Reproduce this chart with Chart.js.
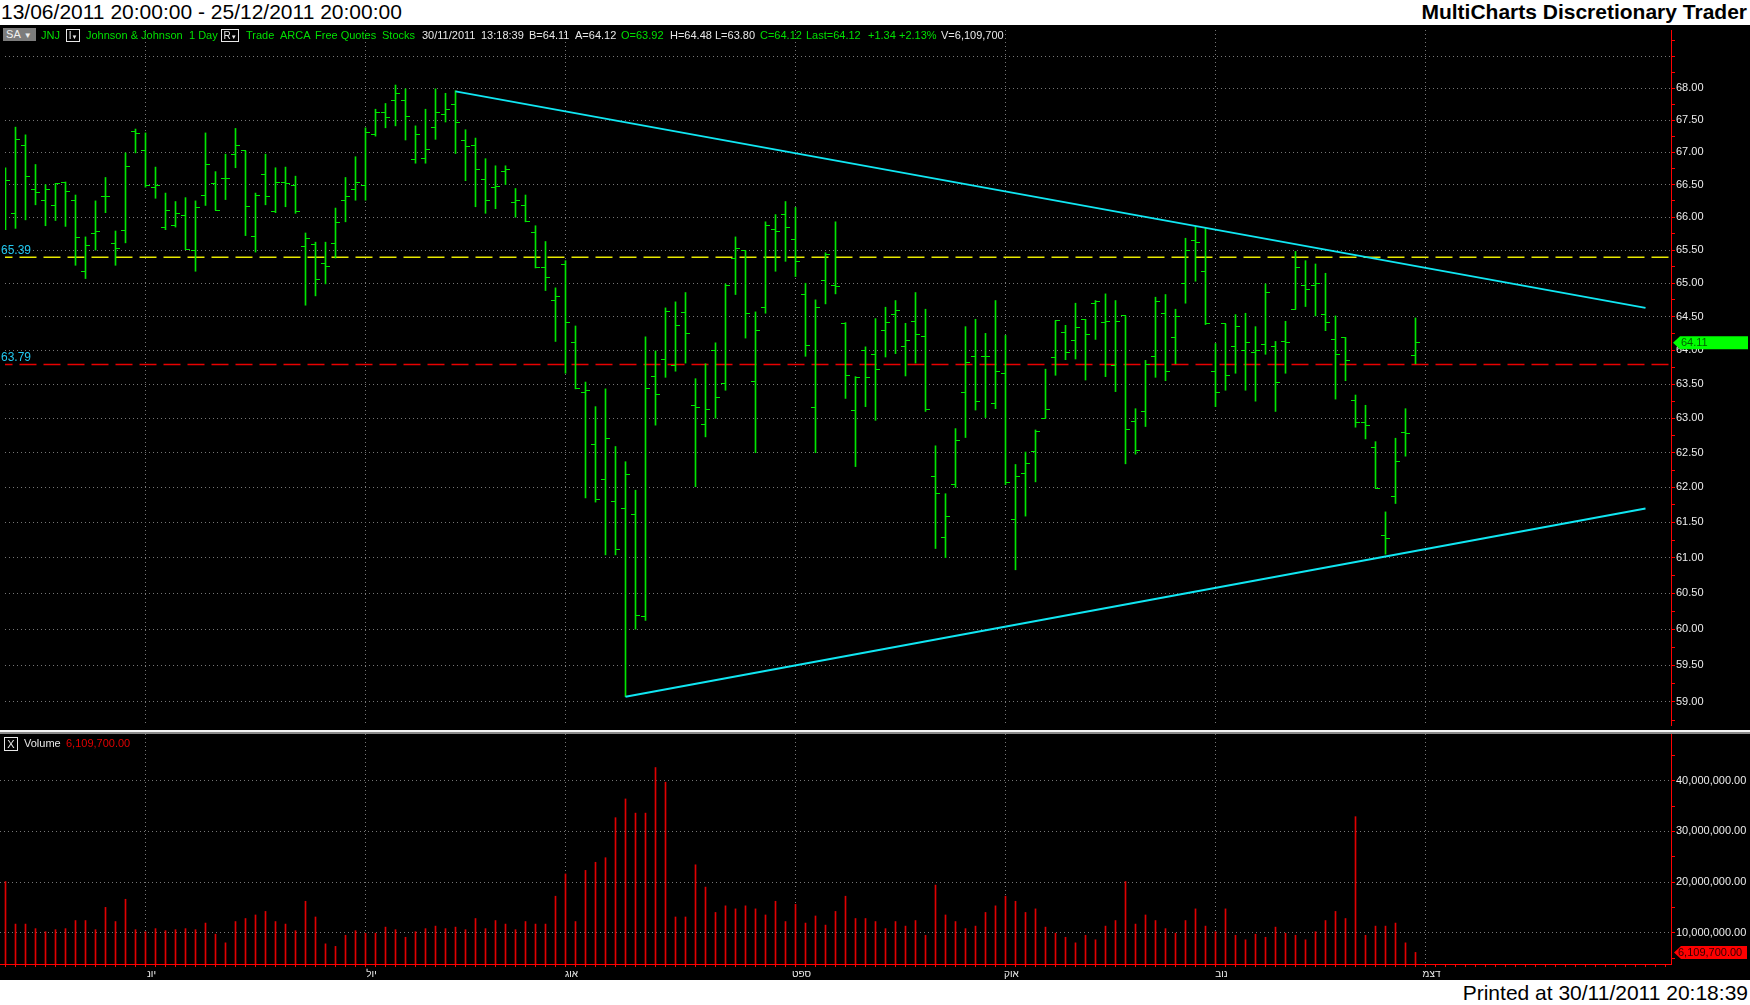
<!DOCTYPE html>
<html>
<head>
<meta charset="utf-8">
<script src="https://cdn.jsdelivr.net/npm/chart.js@4.4.1/dist/chart.umd.min.js"></script>
<style>
html,body{margin:0;padding:0;background:#fff;width:1750px;height:1005px;overflow:hidden;font-family:"Liberation Sans",Arial,sans-serif;}
#black{position:absolute;left:0;top:25px;width:1750px;height:955px;background:#000;}
#title{position:absolute;left:1px;top:0;font-size:21px;line-height:24px;color:#000;white-space:nowrap;}
#brand{position:absolute;right:3px;top:0;font-size:21px;font-weight:bold;line-height:24px;color:#000;white-space:nowrap;}
#footer{position:absolute;right:2px;top:980px;font-size:21px;line-height:25px;color:#000;white-space:nowrap;}
canvas{position:absolute;left:0;}
#price{top:25px;}
#volume{top:734px;}
#sep1{position:absolute;left:0;top:730px;width:1750px;height:2px;background:#f4f4f4;z-index:3;}
#sep2{position:absolute;left:0;top:732px;width:1750px;height:2px;background:#8a8a8a;z-index:3;}
.t{position:absolute;top:29px;font-size:11px;line-height:13px;white-space:nowrap;z-index:5;}
.g{color:#00e000;}
.w{color:#e8e8e8;}
.box{position:absolute;top:29px;height:11px;font-size:10px;line-height:11px;border:1px solid #e8e8e8;color:#e8e8e8;text-align:center;z-index:5;}
#sa{position:absolute;left:3px;top:28px;width:33px;height:13px;background:#7c7c7c;color:#f0f0f0;font-size:11px;line-height:13px;z-index:5;}
#vx{position:absolute;left:4px;top:737px;width:12px;height:12px;border:1px solid #e8e8e8;color:#e8e8e8;font-size:11px;line-height:12px;text-align:center;z-index:5;}
.v{position:absolute;top:737px;font-size:11px;line-height:13px;white-space:nowrap;z-index:5;}
</style>
</head>
<body>
<div id="black"></div>
<div id="title">13/06/2011 20:00:00 - 25/12/2011 20:00:00</div>
<div id="brand">MultiCharts Discretionary Trader</div>
<div id="footer">Printed at 30/11/2011 20:18:39</div>

<canvas id="price" width="1750" height="705"></canvas>
<canvas id="volume" width="1750" height="246"></canvas>
<div id="sep1"></div><div id="sep2"></div>

<div id="sa">&nbsp;SA&nbsp;<span style="font-size:8px">&#9660;</span></div>
<span class="t g" style="left:41px">JNJ</span>
<span class="box" style="left:66px;width:12px">I<span style="font-size:6px">&#9660;</span></span>
<span class="t g" style="left:86px">Johnson &amp; Johnson</span>
<span class="t g" style="left:189px">1 Day</span>
<span class="box" style="left:221px;width:16px">R<span style="font-size:6px">&#9660;</span></span>
<span class="t g" style="left:246px">Trade</span>
<span class="t g" style="left:280px">ARCA</span>
<span class="t g" style="left:315px">Free Quotes</span>
<span class="t g" style="left:382px">Stocks</span>
<span class="t w" style="left:422px">30/11/2011</span>
<span class="t w" style="left:481px">13:18:39</span>
<span class="t w" style="left:529px">B=64.11</span>
<span class="t w" style="left:575px">A=64.12</span>
<span class="t g" style="left:621px">O=63.92</span>
<span class="t w" style="left:670px">H=64.48</span>
<span class="t w" style="left:715px">L=63.80</span>
<span class="t g" style="left:760px">C=64.12</span>
<span class="t g" style="left:806px">Last=64.12</span>
<span class="t g" style="left:868px">+1.34</span>
<span class="t g" style="left:899px">+2.13%</span>
<span class="t w" style="left:941px">V=6,109,700</span>

<div id="vx">X</div>
<span class="v w" style="left:24px">Volume</span>
<span class="v" style="left:66px;color:#e00000">6,109,700.00</span>

<script>
// ---------------- DATA ----------------
const monthLabels = ['יונ','יול','אוג','ספט','אוק','נוב','דצמ'];
const monthStartBars = [15, 37, 57, 80, 101, 122, 143];

const opens = [66.33,66.05,67.11,66.43,66.25,66.18,66.54,66.26,65.18,65.75,66.31,65.60,65.80,67.32,67.03,66.46,65.85,65.88,66.02,65.49,
66.34,66.51,66.60,66.97,67.02,65.71,66.65,66.09,66.54,66.48,65.55,65.58,65.29,65.60,66.25,66.43,66.49,67.28,67.62,67.81,
67.81,66.88,66.90,67.39,67.59,67.74,67.18,67.10,66.58,66.46,66.70,66.22,66.18,65.76,65.24,64.74,65.28,64.11,63.37,62.62,
62.11,61.80,61.70,61.61,60.18,63.61,63.86,63.77,64.56,63.19,62.91,63.99,63.51,65.38,65.49,63.54,64.64,65.82,66.04,65.66,
64.83,63.16,65.04,64.96,64.39,63.11,63.99,63.94,64.29,64.53,64.05,64.42,64.20,62.16,61.29,62.04,63.37,63.90,63.91,63.22,
63.65,61.54,62.20,62.52,63.00,63.89,64.26,64.14,64.46,64.69,64.41,63.77,64.51,62.96,63.10,63.90,64.55,64.19,64.99,65.64,
65.17,63.68,64.39,64.06,64.00,63.96,64.09,64.06,64.13,64.61,64.97,64.97,64.53,64.16,64.19,63.26,62.94,62.58,61.31,61.87,
62.80,63.92];
const highs = [66.76,67.39,67.27,66.81,66.50,66.52,66.54,66.34,65.70,66.25,66.61,65.79,66.99,67.36,67.30,66.77,66.37,66.24,66.30,66.25,
67.30,66.70,66.97,67.37,67.02,66.37,66.97,66.76,66.77,66.63,65.76,65.62,65.62,66.14,66.61,66.93,67.38,67.67,67.76,68.05,
67.99,67.41,67.67,67.99,67.92,67.96,67.35,67.22,66.90,66.79,66.79,66.44,66.34,65.87,65.63,64.93,65.34,64.36,63.53,63.17,
63.43,62.59,62.37,61.96,64.20,63.99,64.63,64.72,64.86,63.58,63.80,64.11,64.99,65.70,65.49,64.57,65.93,66.04,66.24,66.15,
65.00,64.75,65.46,65.93,64.41,63.61,64.05,64.47,64.64,64.74,64.40,64.86,64.61,62.60,61.91,62.85,64.35,64.46,64.25,64.74,
64.22,62.33,62.51,62.83,63.72,64.44,64.37,64.70,64.46,64.74,64.84,64.74,64.51,63.14,63.85,64.79,64.83,64.61,65.68,65.86,
65.83,64.10,64.39,64.53,64.55,64.35,64.99,64.13,64.43,65.48,65.34,65.29,65.15,64.51,64.19,63.34,63.19,62.66,61.65,62.71,
63.14,64.48];
const lows = [65.81,65.83,65.96,66.19,65.87,65.95,65.86,65.27,65.07,65.50,66.07,65.27,65.61,66.99,66.46,66.29,65.81,65.85,65.51,65.18,
66.18,66.11,66.27,66.76,65.72,65.47,66.19,66.07,66.16,66.06,64.67,64.81,64.99,65.38,65.93,66.26,66.26,67.25,67.38,67.41,
67.19,66.83,66.83,67.20,67.47,66.98,66.56,66.16,66.06,66.13,66.50,66.00,65.93,65.23,64.89,64.13,63.66,63.43,61.85,61.79,
61.04,61.04,59.07,60.00,60.12,62.90,63.60,63.69,63.81,62.01,62.73,63.00,63.41,64.83,64.18,62.50,64.55,65.18,65.33,65.10,
63.91,62.50,64.69,64.84,63.29,62.30,63.17,62.97,63.90,63.95,63.62,63.81,63.10,61.13,61.00,62.00,62.72,63.12,63.01,63.14,
62.04,60.83,61.59,62.08,63.00,63.63,63.86,63.87,63.56,64.16,63.61,63.39,62.34,62.48,62.88,63.60,63.55,63.80,64.70,65.03,
64.38,63.17,63.41,63.66,63.41,63.25,63.94,63.10,63.66,64.61,64.65,64.51,64.29,63.28,63.55,62.87,62.70,61.99,61.05,61.77,
62.45,63.80];
const closes = [66.57,67.20,66.63,66.38,66.42,66.51,66.40,65.69,65.57,65.78,66.31,65.52,66.78,67.29,66.49,66.49,66.11,66.06,65.51,66.15,
66.81,66.11,66.60,67.11,66.17,66.34,66.31,66.53,66.51,66.08,65.68,65.06,65.25,65.92,66.32,66.54,67.30,67.62,67.54,67.92,
67.56,67.27,67.04,67.62,67.66,67.46,67.09,66.74,66.26,66.47,66.74,66.26,65.93,65.24,65.08,64.80,64.41,63.43,63.41,61.83,
62.71,61.12,62.18,60.19,63.44,63.35,64.58,64.36,64.25,63.16,63.13,63.30,64.97,65.53,64.55,64.29,65.87,65.78,65.85,65.33,
64.07,64.64,65.43,64.95,63.63,63.59,63.60,63.72,64.41,64.59,64.14,64.23,63.13,61.91,61.58,62.68,63.82,63.25,63.90,63.69,
62.07,62.16,62.35,62.81,63.13,64.44,63.96,64.33,64.23,64.72,64.43,64.43,62.83,62.53,63.79,64.73,63.69,64.50,65.50,65.61,
64.39,63.38,63.63,64.35,64.12,64.00,64.86,63.53,64.12,65.24,64.91,64.99,64.41,63.94,63.85,62.94,62.90,61.99,61.27,62.37,
62.78,64.12];
const volumes = [20.1e6,11.7e6,11.7e6,10.8e6,10.2e6,10.6e6,10.8e6,12.4e6,12.4e6,10.6e6,15.0e6,12.2e6,16.6e6,10.6e6,10.2e6,10.8e6,10.4e6,10.6e6,10.8e6,10.6e6,
11.9e6,9.7e6,8.0e6,12.2e6,12.8e6,13.5e6,14.2e6,12.2e6,11.7e6,10.4e6,16.2e6,13.1e6,7.8e6,7.3e6,9.5e6,10.4e6,9.9e6,9.9e6,11.1e6,10.6e6,
9.1e6,10.2e6,10.8e6,11.3e6,10.8e6,11.1e6,10.6e6,12.8e6,10.8e6,12.4e6,11.7e6,10.6e6,12.2e6,11.7e6,11.7e6,17.2e6,21.6e6,12.2e6,22.3e6,23.9e6,
24.8e6,32.7e6,36.4e6,33.6e6,33.6e6,42.6e6,39.7e6,13.1e6,13.1e6,23.4e6,19.0e6,14.0e6,15.3e6,14.7e6,15.3e6,14.7e6,13.5e6,16.2e6,12.2e6,15.6e6,
11.9e6,13.3e6,11.5e6,14.2e6,17.2e6,12.8e6,12.8e6,12.2e6,10.8e6,12.2e6,11.3e6,12.4e6,9.5e6,19.4e6,13.5e6,12.2e6,10.8e6,11.3e6,14.0e6,15.3e6,
17.2e6,16.2e6,14.0e6,14.7e6,11.1e6,9.9e6,9.1e6,8.0e6,9.5e6,8.6e6,11.3e6,12.4e6,20.1e6,11.7e6,13.5e6,12.4e6,10.8e6,9.9e6,12.4e6,14.7e6,
11.3e6,10.2e6,14.7e6,9.5e6,8.6e6,9.7e6,9.1e6,11.1e6,9.9e6,9.5e6,8.6e6,10.2e6,12.4e6,14.2e6,12.8e6,32.9e6,9.5e6,11.3e6,11.3e6,11.9e6,
8.0e6,6.1097e6];

const resistanceLine = [{bar: 46, price: 67.95}, {bar: 165, price: 64.63}];
const supportLine    = [{bar: 63, price: 59.07}, {bar: 165, price: 61.70}];
const levelYellow = 65.39;
const levelRed = 63.79;
const lastPrice = 64.11;
const lastVolume = 6109700;
const priceLabelValues = [59,59.5,60,60.5,61,61.5,62,62.5,63,63.5,64,64.5,65,65.5,66,66.5,67,67.5,68];
const volumeLabelValues = [10e6,20e6,30e6,40e6];

// ---------------- LAYOUT CALIBRATION (page pixels) ----------------
const BAR_PIX = {n1: 1, x1: 5.5, n2: 142, x2: 1415.5};
const PRICE_PIX = {p1: 68, y1: 88.2, p2: 59, y2: 701.8, canvasTop: 25};
const VOL_PIX = {v1: 40e6, y1: 780.7, v2: 10e6, y2: 932.7, canvasTop: 734};

// ---------------- STYLE ----------------
const GREEN = 'rgb(0,230,0)';
const RED = '#e00000';
const DOT = '#767676';
const AXIS_RED = '#ff0000';
const LABEL = '#ececec';
const CYAN = '#10e6f2';
const X_LO = 0, X_HI = 170;
const FONT = {family: '"Liberation Sans", Arial, sans-serif', size: 11};

function tickImage(left) {
  const c = document.createElement('canvas');
  c.width = 9; c.height = 1;
  const g = c.getContext('2d');
  g.fillStyle = GREEN;
  if (left) g.fillRect(0, 0, 5, 1); else g.fillRect(4, 0, 5, 1);
  return c;
}
const isHalf = v => Math.abs(v * 2 - Math.round(v * 2)) < 1e-6;
const fmtVol = v => v.toLocaleString('en-US', {minimumFractionDigits: 2, maximumFractionDigits: 2});
const noPad = s => { s.paddingTop = 0; s.paddingBottom = 0; s.paddingLeft = 0; s.paddingRight = 0; };

function calibrateX(chart) {
  const a = chart.chartArea;
  const k = (BAR_PIX.x2 - BAR_PIX.x1) / (BAR_PIX.n2 - BAR_PIX.n1);
  const toN = px => BAR_PIX.n1 + (px - BAR_PIX.x1) / k;
  chart.options.scales.x.min = toN(a.left);
  chart.options.scales.x.max = toN(a.right);
}
function calibratePrice(chart) {
  const a = chart.chartArea, P = PRICE_PIX;
  const f = yPage => Math.log(P.p1) + (yPage - P.y1) * (Math.log(P.p2) - Math.log(P.p1)) / (P.y2 - P.y1);
  chart.options.scales.y.min = Math.exp(f(a.bottom + P.canvasTop));
  chart.options.scales.y.max = Math.exp(f(a.top + P.canvasTop));
}
function calibrateVolume(chart) {
  const a = chart.chartArea, V = VOL_PIX;
  const f = yPage => V.v1 + (yPage - V.y1) * (V.v2 - V.v1) / (V.y2 - V.y1);
  chart.options.scales.y.min = f(a.bottom + V.canvasTop);
  chart.options.scales.y.max = f(a.top + V.canvasTop);
}

const crisp = {id: 'crisp', beforeDatasetsDraw(chart) { chart.ctx.imageSmoothingEnabled = false; }};

const priceExtras = {
  id: 'priceExtras',
  afterDraw(chart) {
    const y = chart.scales.y, c = chart.ctx;
    c.save();
    c.font = '12px "Liberation Sans", Arial, sans-serif';
    c.fillStyle = '#22c8f0';
    c.textBaseline = 'alphabetic';
    c.fillText(levelYellow.toFixed(2), 1, Math.round(y.getPixelForValue(levelYellow)) - 3);
    c.fillText(levelRed.toFixed(2), 1, Math.round(y.getPixelForValue(levelRed)) - 3);
    const py = y.getPixelForValue(lastPrice);
    c.fillStyle = '#00ff00';
    c.beginPath();
    c.moveTo(1673, py); c.lineTo(1680, py - 6.5); c.lineTo(1748, py - 6.5);
    c.lineTo(1748, py + 6.5); c.lineTo(1680, py + 6.5); c.closePath(); c.fill();
    c.fillStyle = '#006000';
    c.font = '11px "Liberation Sans", Arial, sans-serif';
    c.textBaseline = 'middle';
    c.fillText(lastPrice.toFixed(2), 1681, py + 0.5);
    c.restore();
  }
};

const volumeExtras = {
  id: 'volumeExtras',
  afterDraw(chart) {
    const y = chart.scales.y, c = chart.ctx;
    const py = y.getPixelForValue(lastVolume);
    c.save();
    c.fillStyle = '#ff0000';
    c.beginPath();
    c.moveTo(1674, py); c.lineTo(1681, py - 6.5); c.lineTo(1747, py - 6.5);
    c.lineTo(1747, py + 6.5); c.lineTo(1681, py + 6.5); c.closePath(); c.fill();
    c.fillStyle = '#300000';
    c.font = '11px "Liberation Sans", Arial, sans-serif';
    c.textBaseline = 'middle';
    c.fillText(fmtVol(lastVolume), 1678, py + 0.5);
    c.restore();
  }
};

const bars = opens.map((_, i) => i + 1);

const priceChart = new Chart(document.getElementById('price'), {
  type: 'bar',
  data: {
    datasets: [
      {type: 'line', data: [{x: X_LO, y: levelYellow}, {x: X_HI, y: levelYellow}], borderColor: '#e8e800', borderWidth: 1.5, borderDash: [17, 7], pointRadius: 0, order: 5},
      {type: 'line', data: [{x: X_LO, y: levelRed}, {x: X_HI, y: levelRed}], borderColor: '#e80000', borderWidth: 1.5, borderDash: [17, 7], pointRadius: 0, order: 5},
      {type: 'bar', data: bars.map((b, i) => ({x: b, y: [lows[i], highs[i]]})), backgroundColor: GREEN, borderWidth: 0, barThickness: 1, order: 4},
      {type: 'line', showLine: false, data: bars.map((b, i) => ({x: b, y: opens[i]})), pointStyle: tickImage(true), pointRadius: 4, order: 3},
      {type: 'line', showLine: false, data: bars.map((b, i) => ({x: b, y: closes[i]})), pointStyle: tickImage(false), pointRadius: 4, order: 3},
      {type: 'line', data: resistanceLine.map(p => ({x: p.bar, y: p.price})), borderColor: CYAN, borderWidth: 2, pointRadius: 0, order: 1},
      {type: 'line', data: supportLine.map(p => ({x: p.bar, y: p.price})), borderColor: CYAN, borderWidth: 2, pointRadius: 0, order: 1}
    ]
  },
  options: {
    responsive: false, animation: false, devicePixelRatio: 1, events: [],
    layout: {padding: 0},
    plugins: {legend: {display: false}, tooltip: {enabled: false}},
    scales: {
      x: {
        type: 'linear', min: 0.45, max: 167.55, offset: false,
        afterBuildTicks: s => { s.ticks = monthStartBars.map(v => ({value: v})); },
        ticks: {display: false},
        grid: {color: DOT, lineWidth: 1, drawTicks: false, offset: false},
        border: {display: false, dash: [1, 3]},
        afterFit: s => { s.height = 0; noPad(s); }
      },
      y: {
        type: 'logarithmic', position: 'right', min: 58.615, max: 69.0,
        afterBuildTicks: s => { const t = []; for (let k = 0; k <= 40; k++) t.push({value: 58.75 + k * 0.25}); s.ticks = t; },
        ticks: {autoSkip: false, color: LABEL, font: FONT, padding: 1,
          callback: v => priceLabelValues.some(p => Math.abs(p - v) < 1e-6) ? v.toFixed(2) : ''},
        grid: {color: c => (c.tick && isHalf(c.tick.value)) ? DOT : 'rgba(0,0,0,0)', tickColor: AXIS_RED, tickLength: 4, drawTicks: true},
        border: {color: AXIS_RED, width: 1, dash: [1, 3]},
        afterFit: s => { s.width = 79; noPad(s); }
      }
    }
  },
  plugins: [crisp, priceExtras]
});
calibrateX(priceChart);
calibratePrice(priceChart);
priceChart.update('none');

const volumeChart = new Chart(document.getElementById('volume'), {
  type: 'bar',
  data: {
    datasets: [
      {data: bars.map((b, i) => ({x: b, y: volumes[i]})), backgroundColor: RED, borderWidth: 0, barThickness: 1}
    ]
  },
  options: {
    responsive: false, animation: false, devicePixelRatio: 1, events: [],
    layout: {padding: 0},
    plugins: {legend: {display: false}, tooltip: {enabled: false}},
    scales: {
      x: {
        type: 'linear', min: 0.45, max: 167.55, offset: false,
        afterBuildTicks: s => { const t = []; for (let v = 1; v <= 167; v++) t.push({value: v}); s.ticks = t; },
        ticks: {autoSkip: false, maxRotation: 0, color: LABEL, font: {family: FONT.family, size: 10}, padding: 1, labelOffset: 6,
          callback: v => { const k = monthStartBars.indexOf(v); return k >= 0 ? monthLabels[k] : ''; }},
        grid: {color: c => (c.tick && monthStartBars.includes(c.tick.value)) ? DOT : 'rgba(0,0,0,0)', tickColor: AXIS_RED, tickLength: 3, drawTicks: true, offset: false},
        border: {color: AXIS_RED, width: 1, dash: [1, 3]},
        afterFit: s => { s.height = 16; noPad(s); }
      },
      y: {
        type: 'linear', position: 'right', min: 3.823e6, max: 49.217e6,
        afterBuildTicks: s => { const t = []; for (let v = 5e6; v <= 45e6; v += 5e6) t.push({value: v}); s.ticks = t; },
        ticks: {autoSkip: false, color: LABEL, font: FONT, padding: 1,
          callback: v => volumeLabelValues.includes(v) ? fmtVol(v) : ''},
        grid: {color: c => (c.tick && volumeLabelValues.includes(c.tick.value)) ? DOT : 'rgba(0,0,0,0)', tickColor: AXIS_RED, tickLength: 4, drawTicks: true},
        border: {color: AXIS_RED, width: 1, dash: [1, 3]},
        afterFit: s => { s.width = 79; noPad(s); }
      }
    }
  },
  plugins: [volumeExtras]
});
calibrateX(volumeChart);
calibrateVolume(volumeChart);
volumeChart.update('none');
</script>
</body>
</html>
